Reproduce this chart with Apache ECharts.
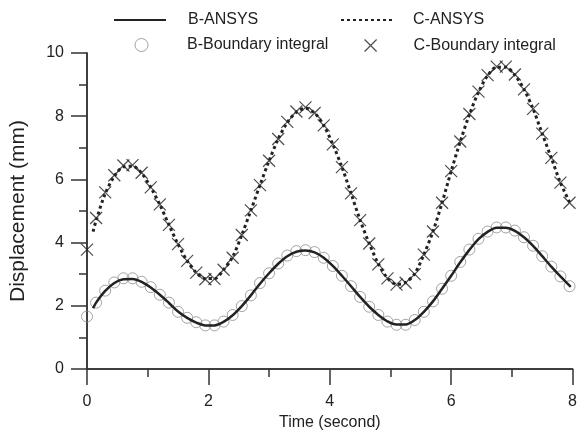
<!DOCTYPE html>
<html>
<head>
<meta charset="utf-8">
<script src="https://cdn.jsdelivr.net/npm/echarts@6/dist/echarts.min.js"></script>
<style>
html, body { margin: 0; padding: 0; background: #fff; }
#main { width: 580px; height: 436px; }
</style>
</head>
<body>
<div id="main"></div>
<script>
// sample times of the boundary integral markers (s)
var markTime = [0, 0.15, 0.3, 0.45, 0.6, 0.75, 0.9, 1.05, 1.2, 1.35,
	1.5, 1.65, 1.8, 1.95, 2.1, 2.25, 2.4, 2.55, 2.7, 2.85,
	3.0, 3.15, 3.3, 3.45, 3.6, 3.75, 3.9, 4.05, 4.2, 4.35,
	4.5, 4.65, 4.8, 4.95, 5.1, 5.25, 5.4, 5.55, 5.7, 5.85,
	6.0, 6.15, 6.3, 6.45, 6.6, 6.75, 6.9, 7.05, 7.2, 7.35,
	7.5, 7.65, 7.8, 7.95];
var bBoundary = [1.66, 2.1, 2.48, 2.74, 2.87, 2.87, 2.76, 2.59, 2.35, 2.1,
	1.81, 1.62, 1.48, 1.38, 1.38, 1.5, 1.71, 1.99, 2.33, 2.72,
	3.03, 3.34, 3.59, 3.73, 3.76, 3.7, 3.52, 3.26, 2.95, 2.62,
	2.28, 1.97, 1.71, 1.5, 1.4, 1.4, 1.55, 1.81, 2.14, 2.54,
	2.95, 3.39, 3.78, 4.12, 4.35, 4.48, 4.48, 4.38, 4.17, 3.9,
	3.57, 3.24, 2.93, 2.62];
var cBoundary = [3.78, 4.78, 5.59, 6.13, 6.44, 6.45, 6.21, 5.75, 5.21, 4.56,
	3.95, 3.42, 3.05, 2.84, 2.85, 3.14, 3.52, 4.24, 5.02, 5.82,
	6.59, 7.28, 7.82, 8.15, 8.28, 8.1, 7.71, 7.11, 6.39, 5.56,
	4.71, 3.97, 3.31, 2.87, 2.67, 2.73, 3.0, 3.62, 4.35, 5.26,
	6.26, 7.2, 8.07, 8.78, 9.3, 9.57, 9.57, 9.32, 8.85, 8.23,
	7.45, 6.68, 5.9, 5.26];

// ANSYS curves (s)
var ansysTime = [0.1, 0.15, 0.3, 0.45, 0.6, 0.75, 0.9, 1.05, 1.2, 1.35,
	1.5, 1.65, 1.8, 1.95, 2.1, 2.25, 2.4, 2.55, 2.7, 2.85,
	3.0, 3.15, 3.3, 3.45, 3.6, 3.75, 3.9, 4.05, 4.2, 4.35,
	4.5, 4.65, 4.8, 4.95, 5.1, 5.25, 5.4, 5.55, 5.7, 5.85,
	6.0, 6.15, 6.3, 6.45, 6.6, 6.75, 6.9, 7.05, 7.2, 7.35,
	7.5, 7.65, 7.8, 7.97];
var bAnsys = [1.92, 2.1, 2.47, 2.72, 2.84, 2.85, 2.76, 2.58, 2.35, 2.09,
	1.82, 1.62, 1.47, 1.38, 1.38, 1.49, 1.7, 1.99, 2.33, 2.7,
	3.03, 3.33, 3.57, 3.71, 3.75, 3.69, 3.52, 3.26, 2.95, 2.62,
	2.28, 1.97, 1.71, 1.51, 1.41, 1.41, 1.55, 1.81, 2.14, 2.54,
	2.95, 3.38, 3.77, 4.11, 4.34, 4.47, 4.47, 4.37, 4.17, 3.9,
	3.57, 3.24, 2.93, 2.6];
var cAnsys = [4.35, 4.7, 5.55, 6.1, 6.4, 6.42, 6.2, 5.75, 5.2, 4.56,
	3.95, 3.42, 3.05, 2.86, 2.86, 3.14, 3.55, 4.24, 5.02, 5.82,
	6.59, 7.28, 7.8, 8.13, 8.25, 8.1, 7.71, 7.11, 6.39, 5.56,
	4.71, 3.97, 3.33, 2.88, 2.68, 2.74, 3.02, 3.62, 4.35, 5.26,
	6.26, 7.2, 8.05, 8.76, 9.28, 9.55, 9.55, 9.3, 8.85, 8.23,
	7.45, 6.68, 5.9, 5.2];

function pairs(t, v) {
	var out = [];
	for (var i = 0; i < t.length; i++) {
		out.push([t[i], v[i]]);
	}
	return out;
}

var fontFam = '"Liberation Sans", Arial, sans-serif';
var crossPath = 'path://M0,0L10,10M10,0L0,10';
var axColor = '#333';

// minor axes (short ticks every 1 unit) and major axes (long ticks + labels every 2)
function minorAxis(max, pos) {
	return {
		type: 'value', min: 0, max: max, interval: 1, position: pos,
		axisLine: { show: true, onZero: false, lineStyle: { color: axColor, width: 1.5 } },
		axisTick: { show: true, length: 8, lineStyle: { color: axColor, width: 1.5 } },
		axisLabel: { show: false },
		splitLine: { show: false }
	};
}
function majorAxis(max, pos, name, gap, nameSize, margin) {
	return {
		type: 'value', min: 0, max: max, interval: 2, position: pos,
		name: name, nameLocation: 'middle', nameGap: gap,
		nameTextStyle: { color: '#222', fontSize: nameSize, fontFamily: fontFam },
		axisLine: { show: true, onZero: false, lineStyle: { color: axColor, width: 1.5 } },
		axisTick: { show: true, length: 16, lineStyle: { color: axColor, width: 1.5 } },
		axisLabel: { margin: margin, color: '#222', fontSize: 16, fontFamily: fontFam },
		splitLine: { show: false }
	};
}

var option = {
	backgroundColor: '#fff',
	animation: false,
	grid: { left: 86, right: 5, top: 53, bottom: 61, containLabel: false },
	legend: [{
		data: ['B-ANSYS'], left: 113, top: 12, padding: 0,
		itemWidth: 52, itemHeight: 14,
		itemStyle: { opacity: 0 },
		textStyle: { color: '#222', fontSize: 16, fontFamily: fontFam, padding: [0, 0, 0, 17] }
	}, {
		data: ['C-ANSYS'], left: 340, top: 12, padding: 0,
		itemWidth: 53, itemHeight: 14,
		itemStyle: { opacity: 0 },
		textStyle: { color: '#222', fontSize: 16, fontFamily: fontFam, padding: [0, 0, 0, 14] }
	}, {
		data: ['B-Boundary integral'], left: 134.5, top: 37, padding: 0,
		itemWidth: 13, itemHeight: 13,
		itemStyle: { borderWidth: 1, borderColor: '#8c8c8c', color: 'rgba(255,255,255,0)' },
		textStyle: { color: '#222', fontSize: 16, fontFamily: fontFam, padding: [0, 0, 0, 34] }
	}, {
		data: ['C-Boundary integral'], left: 364, top: 37.5, padding: 0,
		itemWidth: 12, itemHeight: 12,
		itemStyle: { borderWidth: 1.2, borderColor: '#222', color: 'transparent' },
		textStyle: { color: '#222', fontSize: 16, fontFamily: fontFam, padding: [0, 0, 0, 32] }
	}],
	xAxis: [
		majorAxis(8, 'bottom', 'Time (second)', 46, 16, 25),
		minorAxis(8, 'bottom')
	],
	yAxis: [
		majorAxis(10, 'left', 'Displacement (mm)', 58, 21, 23),
		minorAxis(10, 'left')
	],
	series: [{
		name: 'B-Boundary integral',
		type: 'scatter',
		data: pairs(markTime, bBoundary),
		symbol: 'circle',
		symbolSize: 11,
		itemStyle: { color: 'rgba(255,255,255,0)', borderColor: '#8c8c8c', borderWidth: 1 },
		z: 2
	}, {
		name: 'C-Boundary integral',
		type: 'scatter',
		data: pairs(markTime, cBoundary),
		symbol: crossPath,
		symbolSize: 12,
		itemStyle: { color: 'transparent', borderColor: '#222', borderWidth: 1.2 },
		z: 2
	}, {
		name: 'B-ANSYS',
		type: 'line',
		data: pairs(ansysTime, bAnsys),
		symbol: 'none',
		smooth: 0.3,
		lineStyle: { color: '#222', width: 2.5 },
		itemStyle: { color: '#222' },
		z: 3
	}, {
		name: 'C-ANSYS',
		type: 'line',
		data: pairs(ansysTime, cAnsys),
		symbol: 'none',
		smooth: 0.3,
		lineStyle: { color: '#222', width: 3, type: [3, 3] },
		itemStyle: { color: '#222' },
		z: 3
	}]
};

var myChart = echarts.init(document.getElementById('main'));
myChart.setOption(option);
</script>
</body>
</html>
